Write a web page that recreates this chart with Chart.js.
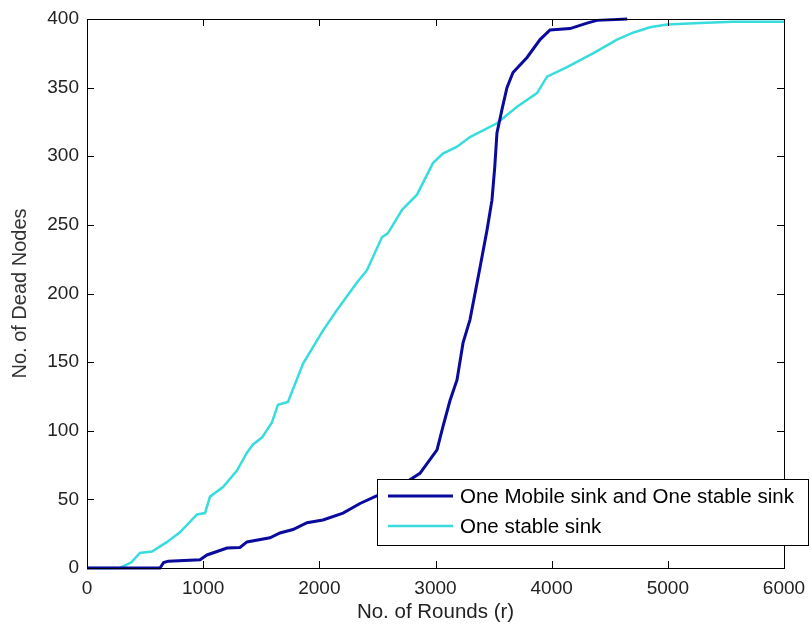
<!DOCTYPE html>
<html>
<head>
<meta charset="utf-8">
<script src="https://cdn.jsdelivr.net/npm/chart.js@4"></script>
<style>
    html, body { margin: 0; padding: 0; background: #fff; }
    #wrap { width: 810px; height: 628px; }
</style>
</head>
<body>
<div id="wrap"><canvas id="chart" width="810" height="628"></canvas></div>
<script>
// Series data
const roundsMobile = [0, 628, 660, 700, 973, 1033, 1205, 1317, 1377, 1575, 1661, 1773, 1894, 2031, 2204, 2350, 2479, 2700, 2866, 3013, 3064, 3125, 3185, 3237, 3297, 3383, 3443, 3486, 3510, 3529, 3572, 3615, 3667, 3788, 3900, 3986, 4158, 4304, 4390, 4650];
const deadMobile = [0, 0, 4, 5, 6, 9.5, 14.6, 15, 19, 22, 25.5, 28, 33, 35, 40, 47, 52, 60, 69, 86, 103, 122, 137, 164, 181, 219, 246, 268, 292, 317, 334, 350, 361, 372, 385, 392, 393, 397, 399, 400];

const roundsStable = [0, 280, 380, 456, 560, 690, 800, 947, 1016, 1059, 1171, 1291, 1377, 1429, 1506, 1592, 1644, 1730, 1860, 2031, 2152, 2324, 2410, 2539, 2591, 2712, 2841, 2978, 3064, 3185, 3297, 3529, 3702, 3874, 3960, 4132, 4356, 4562, 4700, 4846, 4993, 5277, 5561, 6000];
const deadStable = [0, 0, 4, 11, 12, 19, 26, 39, 40, 52, 59, 71, 84, 90, 95, 106, 119, 121, 149, 173, 188, 208, 217, 241, 244, 261, 272, 295, 302, 307, 314, 324, 336, 346, 358, 365, 375, 385, 390, 394, 396, 397, 398, 398];

const seriesLabels = ['One Mobile sink and One stable sink', 'One stable sink'];
const seriesColors = ['#0a0a9c', '#38dcdc'];

const xTicks = [0, 1000, 2000, 3000, 4000, 5000, 6000];
const yTicks = [0, 50, 100, 150, 200, 250, 300, 350, 400];

const FONT = '"Liberation Sans", Arial, sans-serif';

const toPoints = (xs, ys) => xs.map((x, i) => ({ x, y: ys[i] }));

// box, inward ticks on all four sides, legend drawn over the plot
const matlabFrame = {
    id: 'matlabFrame',
    afterDatasetsDraw(chart) {
        const { ctx, chartArea: a, scales } = chart;
        const tick = 7;
        ctx.save();
        ctx.strokeStyle = '#000';
        ctx.lineWidth = 1;
        ctx.strokeRect(a.left + 0.5, a.top + 0.5, a.right - a.left, a.bottom - a.top);

        ctx.beginPath();
        xTicks.forEach((v) => {
            const px = Math.round(scales.x.getPixelForValue(v)) + 0.5;
            ctx.moveTo(px, a.bottom);
            ctx.lineTo(px, a.bottom - tick);
            ctx.moveTo(px, a.top);
            ctx.lineTo(px, a.top + tick);
        });
        yTicks.forEach((v) => {
            const py = Math.round(scales.y.getPixelForValue(v)) + 0.5;
            ctx.moveTo(a.left, py);
            ctx.lineTo(a.left + tick, py);
            ctx.moveTo(a.right, py);
            ctx.lineTo(a.right - tick, py);
        });
        ctx.stroke();

        // legend
        const box = { left: 377, top: 479, right: 808, bottom: 545 };
        ctx.fillStyle = '#fff';
        ctx.fillRect(box.left, box.top, box.right - box.left, box.bottom - box.top);
        ctx.strokeStyle = '#000';
        ctx.strokeRect(box.left + 0.5, box.top + 0.5, box.right - box.left, box.bottom - box.top);

        ctx.font = '20.5px ' + FONT;
        ctx.textBaseline = 'middle';
        chart.data.datasets.forEach((ds, i) => {
            const y = 496 + i * 30;
            ctx.strokeStyle = ds.borderColor;
            ctx.lineWidth = ds.borderWidth;
            ctx.beginPath();
            ctx.moveTo(388, y);
            ctx.lineTo(453, y);
            ctx.stroke();
            ctx.fillStyle = '#000';
            ctx.fillText(ds.label, 460, y + 1);
        });
        ctx.restore();
    }
};

const ctx = document.getElementById('chart').getContext('2d');
new Chart(ctx, {
    type: 'line',
    data: {
        datasets: [
            {
                label: seriesLabels[0],
                data: toPoints(roundsMobile, deadMobile),
                borderColor: seriesColors[0],
                borderWidth: 3,
                pointRadius: 0,
                tension: 0,
                clip: 4
            },
            {
                label: seriesLabels[1],
                data: toPoints(roundsStable, deadStable),
                borderColor: seriesColors[1],
                borderWidth: 2.5,
                pointRadius: 0,
                tension: 0,
                clip: 4
            }
        ]
    },
    options: {
        responsive: false,
        animation: false,
        layout: { padding: { top: 19, right: 26, left: 0, bottom: 0 } },
        plugins: {
            legend: { display: false },
            tooltip: { enabled: false }
        },
        scales: {
            x: {
                type: 'linear',
                min: 0,
                max: 6000,
                afterFit: (scale) => {
                    scale.height = 60;
                    scale.paddingLeft = 0;
                    scale.paddingRight = 0;
                },
                afterBuildTicks: (scale) => { scale.ticks = xTicks.map((v) => ({ value: v })); },
                grid: { display: false, drawTicks: false },
                border: { display: false },
                ticks: {
                    color: '#222',
                    padding: 9,
                    maxRotation: 0,
                    font: { family: FONT, size: 19 },
                    callback: (v) => String(v)
                },
                title: {
                    display: true,
                    text: 'No. of Rounds (r)',
                    color: '#222',
                    padding: { top: 0, bottom: 3 },
                    font: { family: FONT, size: 20.5 }
                }
            },
            y: {
                type: 'linear',
                min: 0,
                max: 400,
                afterFit: (scale) => {
                    scale.width = 87;
                    scale.paddingTop = 0;
                    scale.paddingBottom = 0;
                },
                afterBuildTicks: (scale) => { scale.ticks = yTicks.map((v) => ({ value: v })); },
                grid: { display: false, drawTicks: false },
                border: { display: false },
                ticks: {
                    color: '#222',
                    padding: 8,
                    font: { family: FONT, size: 19 },
                    callback: (v) => String(v)
                },
                title: {
                    display: true,
                    text: 'No. of Dead Nodes',
                    color: '#333',
                    padding: { top: 8, bottom: 0 },
                    font: { family: FONT, size: 20 }
                }
            }
        }
    },
    plugins: [matlabFrame]
});
</script>
</body>
</html>
